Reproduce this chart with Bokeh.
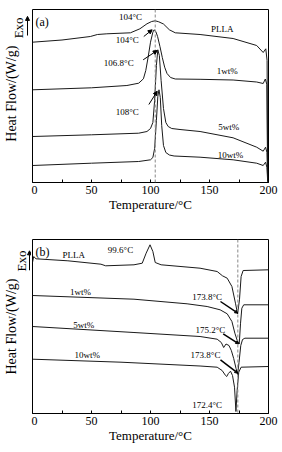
from math import pi
from bokeh.plotting import figure
from bokeh.layouts import column, row
from bokeh.models import Label, Arrow, NormalHead, Span, FixedTicker
from bokeh.embed import file_html
from bokeh.resources import INLINE

FONT = "Liberation Serif"

# ---------------- Panel (a): cooling scans ----------------
a_pll_T = [0, 25, 49, 55, 63, 83, 91, 97, 101, 104, 107, 111, 116, 121, 142, 170, 190, 195.5, 197.7, 198.8, 199.3]
a_pll_H = [140.3, 142.5, 146.0, 148.0, 148.7, 149.7, 153.7, 158.7, 161.0, 161.7, 160.7, 158.5, 152.7, 149.7, 148.0, 144.0, 137.0, 130.0, 133.7, 122.0, 1.0]

a_1wt_T = [0, 50, 80, 90, 94, 96, 98, 100, 102, 103, 104.5, 106, 108, 110, 112, 114, 117, 121, 142, 170, 190, 195.5, 197.3, 198.6, 199.3]
a_1wt_H = [92.7, 94.7, 97.0, 99.3, 103.7, 112.0, 125.3, 140.3, 150.3, 152.7, 151.0, 146.0, 136.0, 125.0, 115.3, 109.0, 105.0, 103.5, 103.2, 102.5, 100.5, 99.0, 103.5, 98.0, 1.0]

a_5wt_T = [0, 50, 90, 97, 100, 102, 103.5, 105, 106.2, 107.5, 109, 111, 113, 115, 118, 125, 142, 170, 190, 195.5, 197.5, 198.7, 199.3]
a_5wt_H = [46.0, 47.7, 49.3, 51.0, 54.0, 60.0, 82.0, 117.0, 132.7, 127.0, 102.0, 74.0, 60.0, 56.0, 54.0, 53.0, 51.0, 44.7, 35.3, 31.3, 35.3, 30.0, 1.0]

a_10wt_T = [0, 50, 90, 100, 102, 103.5, 105, 106.2, 107.2, 108.3, 109.5, 111, 113, 116, 120, 142, 170, 190, 195.5, 197.5, 198.7, 199.3]
a_10wt_H = [17.0, 19.3, 21.0, 22.7, 25.0, 34.0, 62.0, 86.0, 92.7, 85.0, 57.0, 37.0, 30.0, 27.5, 26.5, 25.3, 22.7, 19.3, 17.0, 20.3, 15.0, 1.0]

# ---------------- Panel (b): heating scans ----------------
b_pll_T = [0, 1, 3, 30, 58, 62, 86, 93, 96.3, 99.6, 102, 104, 109, 142, 156.5, 161, 165, 169, 172, 173.8, 175.4, 176.8, 178.5, 200]
b_pll_H = [151.0, 157.0, 154.7, 152.7, 149.3, 147.7, 148.7, 150.3, 160.3, 168.7, 162.0, 151.0, 148.7, 145.3, 142.0, 137.7, 135.3, 127.0, 110.3, 99.7, 113.7, 137.0, 143.0, 143.7]

b_1wt_T = [0, 86, 131, 148, 159, 165, 169, 171.5, 173.5, 175.2, 176.3, 177.4, 179, 200]
b_1wt_H = [118.0, 114.3, 109.7, 107.0, 103.7, 99.7, 92.0, 80.3, 73.0, 69.5, 90.3, 105.3, 108.7, 108.7]

b_5wt_T = [0, 86, 142, 156.5, 160, 162, 164, 166.5, 168.5, 170.5, 172.5, 173.8, 175, 176.5, 178, 180, 200]
b_5wt_H = [87.0, 81.0, 77.0, 74.3, 71.0, 66.0, 69.5, 68.0, 63.0, 55.0, 45.0, 39.0, 51.0, 68.0, 74.0, 75.3, 75.3]

b_10wt_T = [0, 75, 142, 156.5, 160.7, 163.6, 164.6, 166, 167.8, 169.5, 171.2, 172.4, 173.4, 174.8, 176.8, 200]
b_10wt_H = [54.3, 51.3, 47.5, 46.3, 43.0, 38.0, 37.0, 40.0, 42.3, 38.0, 26.3, 2.0, 23.0, 41.3, 46.3, 47.0]

x_ticks = [0, 25, 50, 75, 100, 125, 150, 175, 200]
x_tick_labels = ["0", "", "50", "", "100", "", "150", "", "200"]

# annotation texts (x, y, text)
a_texts = [(83, 166, "104°C"), (80.3, 142.7, "104°C"), (73.1, 119.3, "106.8°C"), (80.3, 70.3, "108°C"),
           (160.8, 153.7, "PLLA"), (165, 111.3, "1wt%"), (166.4, 56, "5wt%"), (167.8, 28, "10wt%")]
a_arrows = [(94.3, 146, 101.4, 152.7), (93.8, 122.7, 105.7, 132), (98.6, 78, 105.7, 91.3)]
b_texts = [(35, 158.7, "PLLA"), (74.6, 163.7, "99.6°C"), (40.7, 122, "1wt%"), (43.5, 88.7, "5wt%"),
           (46.4, 58.7, "10wt%"), (148, 117, "173.8°C"), (150.8, 83.7, "175.2°C"), (146.6, 58.7, "173.8°C"),
           (148, 8.7, "172.4°C")]
b_arrows = [(159.3, 112, 174, 100.3), (161.6, 79.7, 174.8, 69.7), (159.3, 53.7, 174, 40.3)]

Y_LABEL = "Heat Flow/(W/g)"
EXO = "Exo"


def make_panel(height, border_top, border_bottom, y_max, curves, dash_x, tag, texts, arrows,
               arrow_w, head_size):
    p = figure(width=251, height=height, x_range=(0, 200), y_range=(0, y_max),
               output_backend="svg", toolbar_location=None, y_axis_location=None,
               min_border_left=1, min_border_right=14, min_border_top=border_top,
               min_border_bottom=border_bottom)
    p.grid.visible = False
    p.outline_line_color = "black"
    p.outline_line_width = 1
    p.background_fill_color = "white"
    p.border_fill_color = "white"
    ax = p.xaxis[0]
    ax.ticker = FixedTicker(ticks=x_ticks)
    ax.major_label_overrides = {t: l for t, l in zip(x_ticks, x_tick_labels)}
    ax.major_tick_in = 3
    ax.major_tick_out = 0
    ax.minor_tick_in = 0
    ax.minor_tick_out = 0
    ax.major_label_standoff = 3
    ax.major_label_text_font = FONT
    ax.major_label_text_font_size = "12px"
    ax.major_label_text_color = "black"
    ax.axis_label = "Temperature/°C"
    ax.axis_label_text_font = FONT
    ax.axis_label_text_font_style = "normal"
    ax.axis_label_text_font_size = "13px"
    ax.axis_label_text_color = "black"
    ax.axis_label_standoff = 0
    ax.axis_line_color = "black"

    for T, H in curves:
        p.line(T, H, line_color="#1a1a1a", line_width=1)

    p.add_layout(Span(location=dash_x, dimension="height", line_color="#888888",
                      line_dash="3 2", line_width=1))

    for x, y, t in texts:
        p.add_layout(Label(x=x, y=y, text=t, text_font=FONT, text_font_size="9px",
                           text_align="center", text_baseline="middle", text_color="black"))
    for x0, y0, x1, y1 in arrows:
        p.add_layout(Arrow(x_start=x0, y_start=y0, x_end=x1, y_end=y1,
                           line_color="black", line_width=arrow_w,
                           end=NormalHead(size=head_size, fill_color="black", line_color="black")))
    # panel tag
    p.add_layout(Label(x=2.5, y=y_max - 12, text=tag, text_font=FONT, text_font_size="12px",
                       text_align="left", text_baseline="middle", text_color="black"))
    return p


def make_side(height, ylab_xy, exo_xy, arrow_xyy):
    """Narrow strip left of a panel holding the y-axis title and the Exo mark."""
    s = figure(width=31, height=height, x_range=(0, 31), y_range=(0, height),
               output_backend="svg", toolbar_location=None,
               x_axis_location=None, y_axis_location=None, min_border=0)
    s.grid.visible = False
    s.outline_line_color = None
    s.background_fill_color = "white"
    s.border_fill_color = "white"
    s.add_layout(Label(x=ylab_xy[0], y=ylab_xy[1], text=Y_LABEL, angle=pi / 2,
                       text_font=FONT, text_font_size="14px", text_align="center",
                       text_baseline="middle", text_color="black"))
    s.add_layout(Label(x=exo_xy[0], y=exo_xy[1], text=EXO, angle=pi / 2,
                       text_font=FONT, text_font_size="13px", text_align="center",
                       text_baseline="middle", text_color="black"))
    ax0, ay0, ay1 = arrow_xyy
    s.add_layout(Arrow(x_start=ax0, y_start=ay0, x_end=ax0, y_end=ay1,
                       line_color="black", line_width=1,
                       end=NormalHead(size=4, fill_color="black", line_color="black")))
    return s


p1 = make_panel(226, 9, 44, 173,
                [(a_pll_T, a_pll_H), (a_1wt_T, a_1wt_H), (a_5wt_T, a_5wt_H), (a_10wt_T, a_10wt_H)],
                104, "(a)", a_texts, a_arrows, 1, 4)
p2 = make_panel(226, 13, 39, 174,
                [(b_pll_T, b_pll_H), (b_1wt_T, b_1wt_H), (b_5wt_T, b_5wt_H), (b_10wt_T, b_10wt_H)],
                174, "(b)", b_texts, b_arrows, 1.5, 3)

s1 = make_side(226, (11, 116), (18, 202), (27, 192, 217))
s2 = make_side(226, (11, 113), (20.5, 198), (29, 186, 211.3))

layout = column(row(s1, p1, spacing=0), row(s2, p2, spacing=0), spacing=0)
open("out.html", "w").write(file_html(layout, INLINE))
